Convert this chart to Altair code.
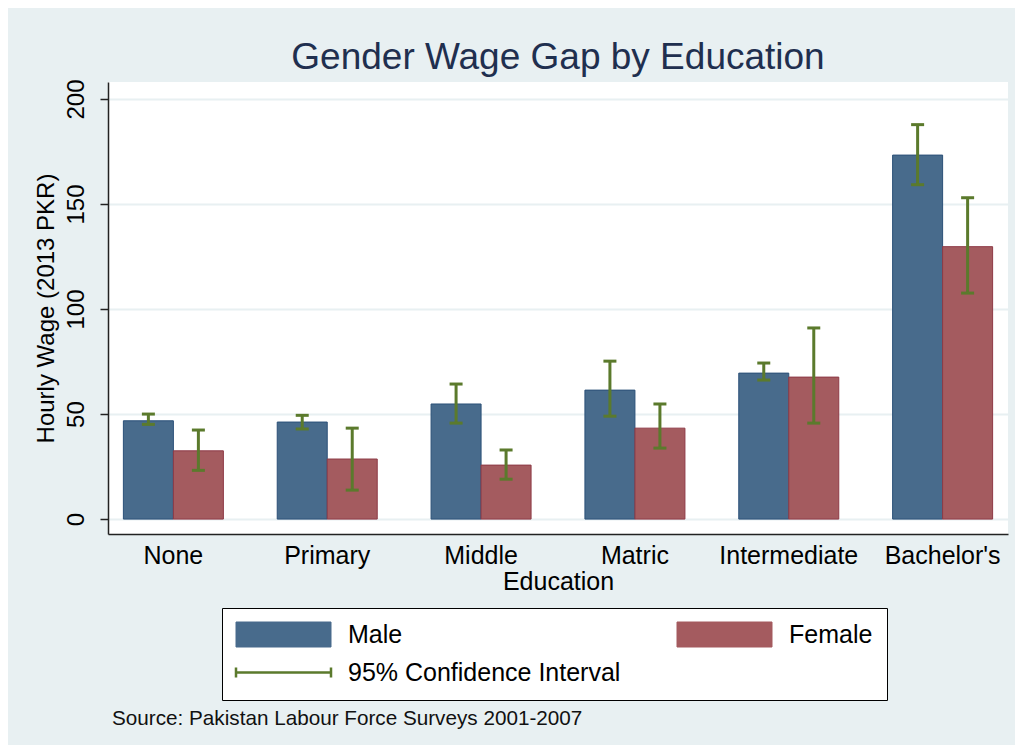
import altair as alt
import pandas as pd

categories = ["None", "Primary", "Middle", "Matric", "Intermediate", "Bachelor's"]
male_wage = [46.8, 46.2, 54.8, 61.4, 69.5, 173.3]
male_lo = [45.1, 42.9, 45.7, 49.0, 66.2, 159.2]
male_hi = [50.0, 49.4, 64.3, 75.2, 74.3, 187.8]
female_wage = [32.5, 28.6, 25.7, 43.3, 67.6, 129.7]
female_lo = [23.2, 13.8, 19.0, 33.8, 45.7, 107.6]
female_hi = [42.4, 43.3, 32.9, 54.8, 91.0, 153.0]
series_names = ["Male", "Female"]
ci_label = "95% Confidence Interval"
y_ticks = [0, 50, 100, 150, 200]
title_text = "Gender Wage Gap by Education"
source_text = "Source: Pakistan Labour Force Surveys 2001-2007"

MALE = "#486B8C"
FEMALE = "#A45B5F"
GREEN = "#5B7A2C"
BG = "#E8F0F2"
FONT = "Liberation Sans"

rows = []
for i, c in enumerate(categories):
    rows.append({"edu": c, "sex": "Male", "series": "Male", "wage": male_wage[i], "lo": male_lo[i], "hi": male_hi[i]})
    rows.append({"edu": c, "sex": "Female", "series": "Female", "wage": female_wage[i], "lo": female_lo[i], "hi": female_hi[i]})
df = pd.DataFrame(rows)
ci_df = df.assign(series=ci_label)

x_enc = alt.X("edu:N", sort=categories, title="Education",
              scale=alt.Scale(paddingInner=0.35, paddingOuter=0.1),
              axis=alt.Axis(labelAngle=0, ticks=False, labelFontSize=25, labelPadding=9,
                            titleFontSize=25, titlePadding=1, domainColor="#222", domainWidth=1.5,
                            labelColor="#000", titleColor="#000", grid=False))
xoff = alt.XOffset("sex:N", sort=series_names, scale=alt.Scale(paddingInner=0, paddingOuter=0))
color_scale = alt.Scale(domain=series_names + [ci_label], range=[MALE, FEMALE, GREEN])

shape_expr = ("datum.value === '" + ci_label + "' ? 'M-1,-0.4V0.4M-1,0H6.6M6.6,-0.4V0.4' : 'M-1,-1H6.6V1H-1Z'")
fill_expr = ("datum.value === 'Male' ? '" + MALE + "' : datum.value === 'Female' ? '" + FEMALE + "' : 'transparent'")
stroke_expr = ("datum.value === 'Male' ? '#2B5078' : datum.value === 'Female' ? '#8E3A46' : '" + GREEN + "'")
sw_expr = ("datum.value === '" + ci_label + "' ? 2.5 : 1")

legend = alt.Legend(
    title=None, orient="none", legendX=114, legendY=526, columns=2, direction="horizontal",
    padding=14, strokeColor="#000", fillColor="#FFFFFF",
    labelFontSize=25, labelFont=FONT, labelColor="#000", labelLimit=500,
    symbolSize=625, labelOffset=87, columnPadding=54, rowPadding=11,
    symbolType=alt.ExprRef(shape_expr),
    symbolFillColor=alt.ExprRef(fill_expr),
    symbolStrokeColor=alt.ExprRef(stroke_expr),
    symbolStrokeWidth=alt.ExprRef(sw_expr),
    symbolOpacity=1,
)

y_scale = alt.Scale(domain=[-7.1, 208.1], nice=False, zero=False)
y_axis = alt.Axis(values=y_ticks, labelAngle=-90, labelAlign="center", labelBaseline="bottom",
                  labelFontSize=24, labelPadding=12, tickSize=8, tickColor="#222", tickWidth=1.5,
                  domainColor="#222", domainWidth=1.5, gridColor=BG, gridWidth=2,
                  titleFontSize=24, titlePadding=6, labelColor="#000", titleColor="#000")

bars = alt.Chart(df).mark_bar(strokeWidth=1, opacity=1).encode(
    x=x_enc, xOffset=xoff,
    y=alt.Y("wage:Q", scale=y_scale, axis=y_axis, title="Hourly Wage (2013 PKR)"),
    color=alt.Color("series:N", scale=color_scale, legend=legend),
    stroke=alt.Stroke("series:N", scale=alt.Scale(domain=series_names, range=["#2B5078", "#8E3A46"]), legend=None),
)

rules = alt.Chart(ci_df).mark_rule(strokeWidth=3).encode(
    x=alt.X("edu:N", sort=categories), xOffset=xoff,
    y=alt.Y("lo:Q"), y2="hi:Q",
    color=alt.Color("series:N", scale=color_scale, legend=legend),
)
caps_lo = alt.Chart(df).mark_tick(size=13, thickness=3, color=GREEN, opacity=1).encode(
    x=alt.X("edu:N", sort=categories), xOffset=xoff, y=alt.Y("lo:Q"))
caps_hi = alt.Chart(df).mark_tick(size=13, thickness=3, color=GREEN, opacity=1).encode(
    x=alt.X("edu:N", sort=categories), xOffset=xoff, y=alt.Y("hi:Q"))

source = alt.Chart(pd.DataFrame({"t": [source_text]})).mark_text(
    align="left", baseline="alphabetic", fontSize=20.7, font=FONT, color="#111").encode(
    x=alt.value(4), y=alt.value(643), text="t:N")

chart = alt.layer(bars, rules, caps_lo, caps_hi, source).resolve_scale(stroke="independent").properties(
    width=900, height=452,
    title=alt.TitleParams(title_text, fontSize=37, font=FONT, fontWeight="normal", color="#1F2F4F", offset=2, anchor="middle"),
    autosize=alt.AutoSizeParams(type="none"),
    padding={"left": 100, "top": 74, "right": 7, "bottom": 211},
    background=BG,
).configure_view(stroke=None, fill="#FFFFFF").configure_axis(
    labelFont=FONT, titleFont=FONT, titleFontWeight="normal"
)

chart.save("out.html", embed_options={"renderer": "svg", "actions": False})
